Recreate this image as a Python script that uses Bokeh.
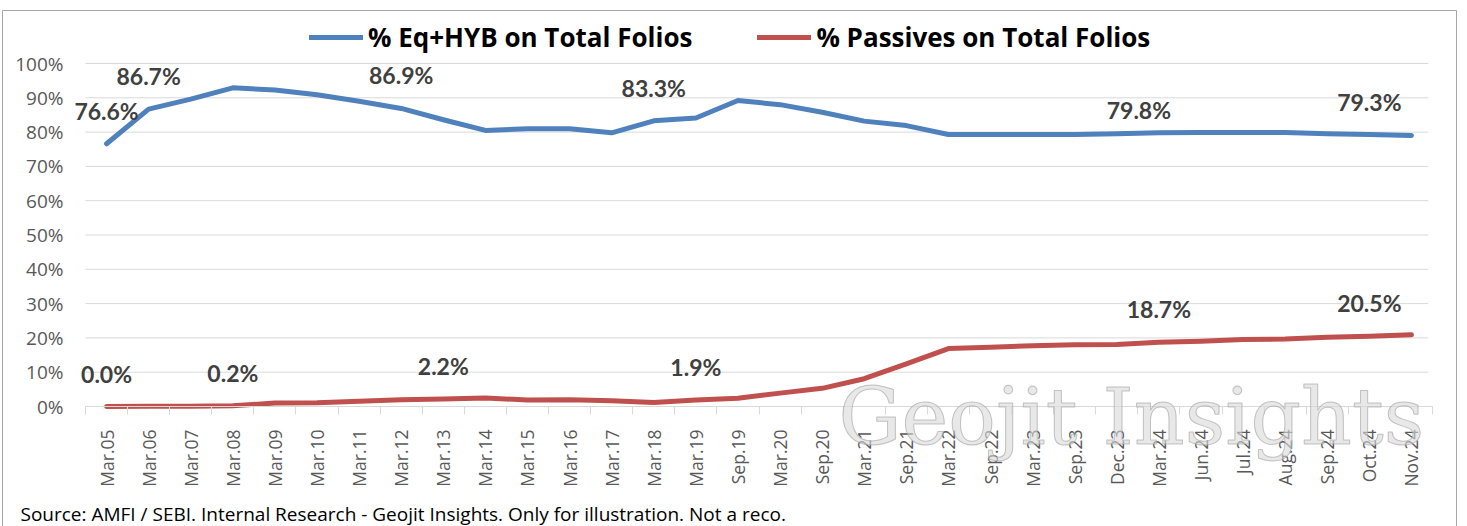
import math
from bokeh.plotting import figure
from bokeh.models import (ColumnDataSource, FixedTicker, Legend, LegendItem,
                          Label, LabelSet, LinearAxis)
from bokeh.core.properties import value
from bokeh.embed import file_html
from bokeh.resources import INLINE

categories = ["Mar.05", "Mar.06", "Mar.07", "Mar.08", "Mar.09", "Mar.10", "Mar.11",
              "Mar.12", "Mar.13", "Mar.14", "Mar.15", "Mar.16", "Mar.17", "Mar.18",
              "Mar.19", "Sep.19", "Mar.20", "Sep.20", "Mar.21", "Sep.21", "Mar.22",
              "Sep.22", "Mar.23", "Sep.23", "Dec.23", "Mar.24", "Jun.24", "Jul.24",
              "Aug.24", "Sep.24", "Oct.24", "Nov.24"]

eq_hyb = [76.6, 86.7, 89.6, 92.9, 92.3, 90.9, 89.0, 86.9, 83.6, 80.5, 81.0, 81.0,
          79.8, 83.3, 84.1, 89.2, 88.0, 85.8, 83.2, 81.9, 79.3, 79.3, 79.3, 79.3,
          79.5, 79.8, 79.9, 79.9, 79.9, 79.5, 79.3, 79.0]

passives = [0.0, 0.1, 0.1, 0.2, 1.0, 1.1, 1.5, 2.0, 2.2, 2.5, 1.9, 2.0,
            1.7, 1.2, 1.9, 2.4, 3.9, 5.3, 8.1, 12.4, 16.9, 17.3, 17.7, 18.0,
            18.1, 18.7, 19.0, 19.5, 19.7, 20.2, 20.5, 20.9]

eq_label_idx = [0, 1, 7, 13, 25, 30]
passive_label_idx = [0, 3, 8, 14, 25, 30]

y_ticks = [0, 10, 20, 30, 40, 50, 60, 70, 80, 90, 100]

series_names = ["% Eq+HYB on Total Folios", "% Passives on Total Folios"]
source_note = "Source: AMFI / SEBI. Internal Research - Geojit Insights. Only for illustration. Not a reco."
watermark = "Geojit Insights"

BLUE = "#4f81bd"
RED = "#c0504d"
GRID = "#d9d9d9"
TICK_TXT = "#595959"
LBL_TXT = "#404040"

# ---- layout (canvas pixels) ----
W, H = 1455, 520
PLOT_L, PLOT_R = 83, 1430      # x pixel of category band edges
Y0_PX, Y100_PX = 396, 53       # pixel rows of 0% and 100%
n = len(categories)
xu = (PLOT_R - PLOT_L) / n
yu = (Y0_PX - Y100_PX) / 100.0
x_start = -0.5 - PLOT_L / xu
x_end = n - 0.5 + (W - PLOT_R) / xu
y_start = -(H - Y0_PX) / yu
y_end = 100 + Y100_PX / yu

def dx(px):
    return x_start + px / xu

def dy(py):
    return y_start + (H - py) / yu

xs = list(range(n))

p = figure(width=W, height=H, output_backend="svg", toolbar_location=None,
           x_range=(x_start, x_end), y_range=(y_start, y_end),
           x_axis_location=None, y_axis_location=None,
           min_border_left=0, min_border_right=0, min_border_top=0, min_border_bottom=0)
p.styles = {"margin-left": "2px", "margin-top": "10px"}
p.outline_line_color = "#a6a6a6"
p.outline_line_width = 1
p.background_fill_color = "white"
p.border_fill_color = "white"
p.xgrid.visible = False
p.ygrid.visible = False

# horizontal gridlines
p.segment(x0=[-0.5] * len(y_ticks), x1=[n - 0.6] * len(y_ticks), y0=y_ticks, y1=y_ticks,
          line_color=GRID, line_width=1)

# y axis
yax = LinearAxis(fixed_location=-0.5, bounds=(0, 100))
yax.ticker = FixedTicker(ticks=y_ticks)
yax.major_label_overrides = {t: f"{t}%" for t in y_ticks}
yax.axis_line_color = None
yax.major_tick_line_color = None
yax.minor_tick_line_color = None
yax.major_label_standoff = 16
yax.major_label_text_font = "Open Sans"
yax.major_label_text_font_size = "19px"
yax.major_label_text_color = TICK_TXT
p.add_layout(yax, "left")

# x axis
xax = LinearAxis(fixed_location=0, bounds=(-0.5, n - 0.5))
xax.ticker = FixedTicker(ticks=xs, minor_ticks=[i - 0.5 for i in range(n + 1)])
xax.major_label_overrides = {i: c for i, c in enumerate(categories)}
xax.major_label_orientation = math.pi / 2
xax.axis_line_color = GRID
xax.axis_line_width = 1
xax.major_tick_line_color = None
xax.major_tick_out = 0
xax.major_tick_in = 0
xax.minor_tick_line_color = GRID
xax.minor_tick_out = 8
xax.minor_tick_in = 0
xax.major_label_standoff = 15
xax.major_label_text_font = "Open Sans"
xax.major_label_text_font_size = "17.5px"
xax.major_label_text_color = TICK_TXT
p.add_layout(xax, "below")

src = ColumnDataSource(dict(x=xs, eq=eq_hyb, pas=passives))
r1 = p.line("x", "eq", source=src, line_color=BLUE, line_width=5,
            line_cap="round", line_join="round")
r2 = p.line("x", "pas", source=src, line_color=RED, line_width=5,
            line_cap="round", line_join="round")

# watermark (drawn before data labels)
p.add_layout(Label(x=dx(836), y=dy(406), text=watermark,
                   text_font="DejaVu Serif", text_font_size="79px",
                   text_color="#d9d9d9", text_alpha=0.6,
                   text_outline_color="#a0a0a0", text_baseline="alphabetic"))

# data labels
lab_x, lab_y, lab_t, lab_dx, lab_dy = [], [], [], [], []
for i in eq_label_idx:
    lab_x.append(i); lab_y.append(eq_hyb[i]); lab_t.append(f"{eq_hyb[i]:.1f}%")
    lab_dx.append(-20 if i == 25 else 0); lab_dy.append(23 if i == 25 else 33)
for i in passive_label_idx:
    lab_x.append(i); lab_y.append(passives[i]); lab_t.append(f"{passives[i]:.1f}%")
    lab_dx.append(0); lab_dy.append(33)
lsrc = ColumnDataSource(dict(x=lab_x, y=lab_y, t=lab_t, dx=lab_dx, dy=lab_dy))
p.add_layout(LabelSet(x="x", y="y", text="t", source=lsrc, x_offset="dx", y_offset="dy",
                      text_align="center", text_baseline="middle",
                      text_font=value("Lato"), text_font_style="bold",
                      text_font_size="23px", text_color=LBL_TXT))

# legend (location = bottom-left corner, from frame bottom-left)
legend = Legend(items=[LegendItem(label=series_names[0], renderers=[r1]),
                       LegendItem(label=series_names[1], renderers=[r2])],
                location=(307, H - 45), orientation="horizontal",
                label_text_font="Open Sans", label_text_font_style="bold",
                label_text_font_size="26px", label_text_color="black",
                glyph_width=54, glyph_height=30, label_height=30,
                label_standoff=5, spacing=65, padding=0, margin=0,
                border_line_color=None, background_fill_alpha=0)
p.add_layout(legend)

# source note
p.add_layout(Label(x=dx(18), y=dy(503), text=source_note,
                   text_font="Open Sans", text_font_size="19px", text_color="black",
                   text_baseline="middle"))

open("out.html", "w").write(file_html(p, INLINE))
